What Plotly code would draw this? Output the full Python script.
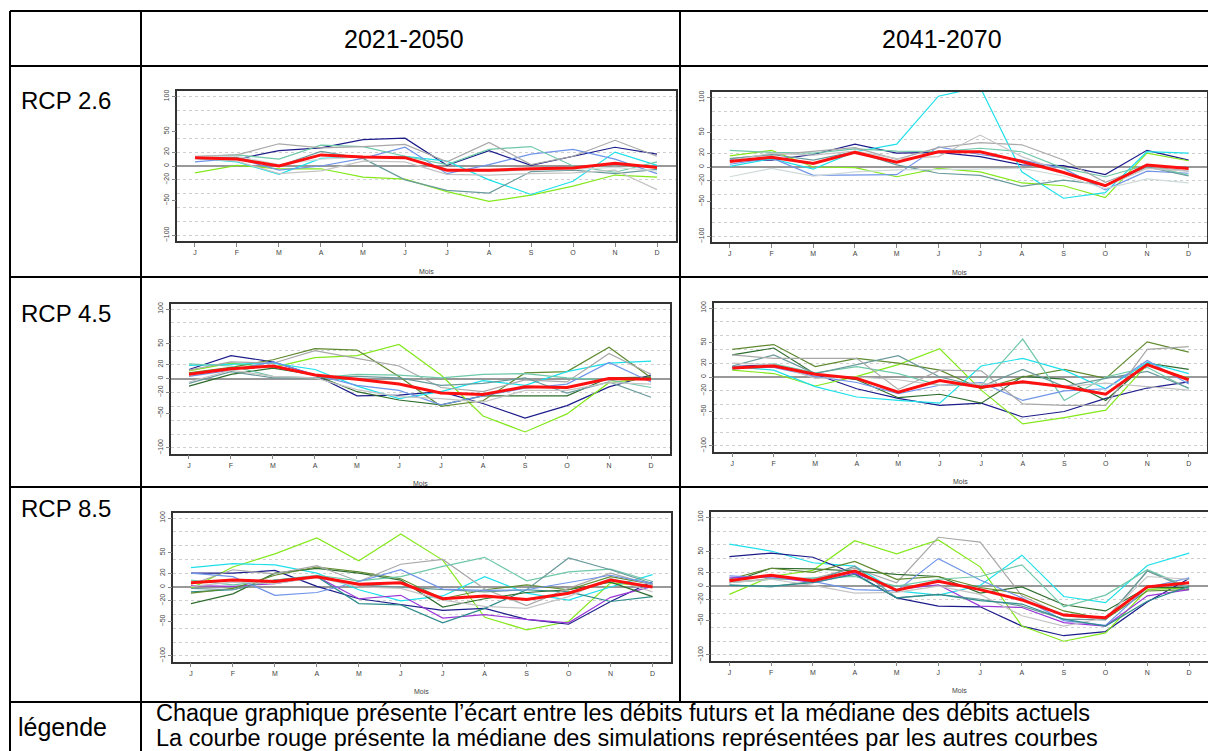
import plotly.graph_objects as go

W, H = 1208, 751

# ---------------- data ----------------
MONTHS = ["J", "F", "M", "A", "M", "J", "J", "A", "S", "O", "N", "D"]
MONTH_POS = list(range(1, 13))
Y_LABEL_TICKS = [-100, -50, -20, 0, 20, 50, 100]
Y_GRID = list(range(-100, 101, 20))
PERIODS = ["2021-2050", "2041-2070"]
SCENARIOS = ["RCP 2.6", "RCP 4.5", "RCP 8.5"]
LEGEND_TITLE = "légende"
LEGEND_LINES = [
    "Chaque graphique présente l’écart entre les débits futurs et la médiane des débits actuels",
    "La courbe rouge présente la médiane des simulations représentées par les autres courbes",
]
X_TITLE = "Mois"

# RCP 2.6 / 2021-2050
RCP26_2021 = {
    "navy": [12, 10, 22, 26, 38, 40, 1, 22, 1, 14, 27, 17],
    "lawngreen": [-10, 1, -4, -4, -16, -19, -37, -51, -42, -29, -13, -16],
    "cyan": [11, 6, -12, 11, 13, 14, 7, -20, -41, -22, 20, 1],
    "cornflower": [6, 11, -6, 0, 11, 27, -11, 2, 17, 24, 10, -11],
    "aquamarine": [13, 16, 10, 30, 28, 14, 2, 24, 28, 0, -9, 6],
    "gray": [14, 16, 32, 26, 28, 31, 6, 34, 2, 14, 37, 14],
    "cadet": [13, 12, 0, 21, 11, -20, -35, -39, -8, -6, -11, -5],
    "lightgray": [11, 7, -11, -7, 7, 6, -12, -13, -11, -10, -6, -34],
    "silver": [14, 14, 2, 10, 13, 11, -5, -8, -6, -5, -2, -7],
}
MED_RCP26_2021 = [12, 10, 0, 16, 13, 12, -6, -6, -4, -3, 4, -2]

# RCP 2.6 / 2041-2070
RCP26_2041 = {
    "navy": [10, 10, 18, 33, 20, 21, 15, 3, 2, -11, 24, 10],
    "lawngreen": [16, 24, 0, -1, -14, -2, -7, -23, -27, -44, 20, 9],
    "cyan": [1, 12, -3, 22, 33, 102, 115, -7, -45, -37, 22, 20],
    "cornflower": [4, 13, -12, -11, -11, 29, 18, 10, -2, -33, -6, -9],
    "aquamarine": [24, 21, 20, 26, 23, 22, 27, 22, -2, -14, 3, -12],
    "gray": [12, 17, 23, 28, 11, 28, 35, 32, 10, -22, 1, -6],
    "cadet": [12, 18, 10, 22, 3, -9, -12, -28, -19, -26, 0, -13],
    "lightgray": [9, 20, 17, 23, 12, 15, 46, 15, -7, -28, -2, -6],
    "silver": [-14, -2, -13, -7, -4, -4, -3, -2, -13, -31, -17, -23],
}
MED_RCP26_2041 = [8, 14, 5, 21, 7, 22, 22, 8, -8, -27, 3, -2]

# RCP 4.5 / 2021-2050
RCP45_2021 = {
    "navy": [13, 33, 24, 5, -25, -24, -19, -36, -57, -39, -12, 5],
    "lawngreen": [11, 22, 16, 30, 33, 49, 5, -54, -77, -51, -6, 1],
    "darkgreen": [-11, 6, 15, 5, -19, -31, -38, -25, -25, -25, 1, 2],
    "olive": [8, 16, 27, 43, 41, 3, -40, -32, 8, 10, 45, 1],
    "cyan": [19, 21, 22, 13, -11, -29, -19, -3, -10, 10, 22, 25],
    "gray": [12, 24, 22, 40, 29, 18, -13, -19, -2, -5, 36, 6],
    "cornflower": [3, 12, 24, 5, -10, -17, -38, -25, -14, -8, 23, -5],
    "aquamarine": [21, 18, 3, 1, 6, 5, 1, 6, 7, 1, -2, -13],
    "cadet": [-7, 10, 1, 1, 3, 1, -10, -7, 1, -21, -5, -27],
    "lightgray": [-5, 12, 3, 1, -16, -26, -29, -34, -17, -17, -6, -8],
}
MED_RCP45_2021 = [6, 14, 18, 5, -1, -8, -21, -23, -12, -13, 0, -1]

# RCP 4.5 / 2041-2070
RCP45_2041 = {
    "navy": [15, 18, 4, -17, -31, -41, -38, -58, -50, -31, -16, -7],
    "lawngreen": [10, 5, -13, 1, 18, 41, -19, -68, -59, -48, 18, -2],
    "darkgreen": [32, 42, 4, -4, -30, -25, -38, 1, -3, -34, 20, 11],
    "olive": [40, 47, 15, 27, 20, 10, -17, 0, 11, -2, 51, 36],
    "cyan": [15, 10, -14, -29, -34, -38, 16, 27, 10, -17, 21, 5],
    "aquamarine": [11, 19, 6, 15, 5, -12, -12, 55, -34, 0, 14, -17],
    "cadet": [16, 32, 5, 18, 31, 0, -14, 11, -14, -2, 8, -16],
    "cornflower": [14, 14, 1, -8, -24, -12, -8, -34, -20, -17, 24, -10],
    "gray": [32, 27, 27, 27, -18, 10, 9, -39, -41, -41, 40, 44],
    "lightgray": [20, 18, -2, 0, -4, -12, -10, -9, -14, -9, -14, -19],
}
MED_RCP45_2041 = [13, 16, 4, -2, -22, -5, -15, -7, -14, -25, 18, -4]

# RCP 8.5 / 2021-2050
RCP85_2021 = {
    "lawngreen": [-2, 29, 48, 71, 38, 77, 39, -44, -62, -50, 6, 1],
    "navy": [20, 20, 24, 1, -17, -26, -34, -31, -47, -54, -21, 8],
    "cyan": [28, 34, 32, 20, -4, -20, -13, 15, -9, -19, 0, 18],
    "purple": [2, 1, 5, 15, -17, -12, -45, -40, -47, -52, -15, 1],
    "darkcyan": [-7, -4, 10, 15, -24, -26, -52, -31, -4, -7, -21, -14],
    "darkgreen": [-24, -10, 20, 27, 20, 10, -29, -17, -8, -4, 7, -14],
    "olive": [-9, -2, 17, 29, 22, 12, -17, -4, 3, -4, 15, 4],
    "gray": [4, 25, 19, 31, 8, 33, 40, -3, -27, -2, 20, 3],
    "aquamarine": [10, 3, 10, 17, 9, 15, 30, 43, 9, 22, 26, 8],
    "cadet": [-2, -4, 10, 15, 3, 0, -4, -7, -4, 42, 25, 5],
    "cornflower": [20, 15, -12, -8, 8, 25, -3, -5, -4, 6, 17, 5],
    "lightgray": [1, 7, 5, 14, 0, -2, -19, -28, -31, -14, 13, -7],
}
MED_RCP85_2021 = [6, 10, 8, 15, 4, 6, -17, -13, -18, -9, 10, 0]

# RCP 8.5 / 2041-2070
RCP85_2041 = {
    "cyan": [61, 51, 34, 29, -7, -13, 1, 45, -15, -24, 30, 48],
    "navy": [43, 48, 42, 18, -17, -29, -30, -58, -72, -66, -23, 11],
    "lawngreen": [-12, 14, 23, 66, 47, 67, 28, -58, -80, -68, -5, -2],
    "gray": [5, 11, 11, 26, 5, 71, 64, -14, -43, -48, 22, -1],
    "darkgreen": [5, 26, 25, 22, 17, 14, -10, -1, -27, -36, -2, -2],
    "olive": [10, 26, 20, 36, 10, 14, -2, -11, -36, -48, -7, -5],
    "cornflower": [15, 12, 7, -5, -7, 40, 9, -17, -50, -57, -2, 12],
    "purple": [12, 14, 5, 19, -5, 2, -29, -31, -53, -58, -14, -5],
    "aquamarine": [5, 10, 12, 14, 0, 10, 14, 31, -30, -13, 24, -2],
    "cadet": [2, -1, 7, 29, -17, -12, -19, -29, -48, -49, 22, -4],
    "lightgray": [5, 10, 1, -10, -9, 0, -12, -43, -58, -46, 14, 10],
    "darkcyan": [1, 0, 5, 17, -17, -12, -21, -26, -48, -58, -22, 0],
}
MED_RCP85_2041 = [8, 16, 8, 22, -6, 7, -5, -20, -42, -46, -1, 5]

# ---------------- styles ----------------
COLORS = {
    "navy": "#1c1c8a",
    "lawngreen": "#84e81c",
    "cyan": "#1ee0ea",
    "cornflower": "#6f94e8",
    "aquamarine": "#6fc8a8",
    "gray": "#a8a8a8",
    "cadet": "#6a9a9c",
    "lightgray": "#c4c4c4",
    "silver": "#cfdada",
    "darkgreen": "#2f6e2f",
    "olive": "#5f8a2f",
    "purple": "#9a38d8",
    "darkcyan": "#2e8c8c",
}
MEDIAN_COLOR = "#ff1010"
FONT = "Liberation Sans, Arial, sans-serif"

# panel boxes in pixels: (left, right, top, bottom)
PANELS = [
    (RCP26_2021, MED_RCP26_2021, (176.5, 675.5, 91, 241)),
    (RCP26_2041, MED_RCP26_2041, (711.5, 1207, 92, 242)),
    (RCP45_2021, MED_RCP45_2021, (170.5, 669.5, 303.5, 453.5)),
    (RCP45_2041, MED_RCP45_2041, (714, 1207, 302.5, 451.5)),
    (RCP85_2021, MED_RCP85_2021, (172.5, 671, 512.5, 661.5)),
    (RCP85_2041, MED_RCP85_2041, (711, 1207.5, 511.8, 660.5)),
]


def px(x):
    return x / W


def py(y):
    return 1 - y / H


fig = go.Figure()
layout = dict(
    width=W, height=H, margin=dict(l=0, r=0, t=0, b=0),
    paper_bgcolor="white", plot_bgcolor="white",
    showlegend=False, template="none",
    font=dict(family=FONT, color="#000"),
)
annotations = []
shapes = []

n = len(PANELS)
for i, (series, median, (l, r, t, b)) in enumerate(PANELS, start=1):
    sx = "" if i == 1 else str(i)
    for name, vals in series.items():
        fig.add_trace(go.Scatter(
            x=MONTH_POS, y=vals, mode="lines",
            line=dict(color=COLORS[name], width=1.2),
            xaxis="x" + sx, yaxis="y" + sx, hoverinfo="skip",
        ))
    fig.add_trace(go.Scatter(
        x=MONTH_POS, y=median, mode="lines",
        line=dict(color=MEDIAN_COLOR, width=3),
        xaxis="x" + sx, yaxis="y" + sx, hoverinfo="skip",
    ))
    # empty trace to anchor the labelled overlay axis
    fig.add_trace(go.Scatter(x=[], y=[], xaxis="x" + sx, yaxis="y" + str(i + n)))

    layout["xaxis" + sx] = dict(
        domain=[px(l), px(r)], range=[0.56, 12.44], anchor="y" + sx,
        tickmode="array", tickvals=MONTH_POS, ticktext=MONTHS,
        ticks="outside", ticklen=4, tickwidth=1, tickcolor="#888",
        tickfont=dict(size=7, color="#444", family=FONT),
        showline=True, mirror=True, linecolor="#333", linewidth=1.5,
        showgrid=False, zeroline=False, automargin=False,
    )
    layout["yaxis" + sx] = dict(
        domain=[py(b), py(t)], range=[-108, 108], anchor="x" + sx,
        tickmode="array", tickvals=Y_GRID, showticklabels=False, ticks="",
        showgrid=True, gridcolor="#cfcfcf", griddash="dot", gridwidth=1,
        zeroline=True, zerolinecolor="#999", zerolinewidth=1.5,
        showline=True, mirror=True, linecolor="#333", linewidth=1.5,
        automargin=False,
    )
    layout["yaxis" + str(i + n)] = dict(
        overlaying="y" + sx, anchor="x" + sx, side="left", range=[-108, 108],
        tickmode="array", tickvals=Y_LABEL_TICKS,
        ticks="outside", ticklen=4, tickwidth=1, tickcolor="#888",
        tickangle=-90, tickfont=dict(size=7, color="#444", family=FONT),
        showgrid=False, zeroline=False, showline=False, automargin=False,
    )
    annotations.append(dict(
        x=px((l + r) / 2), y=py(b + 30), xref="paper", yref="paper",
        text=X_TITLE, showarrow=False, font=dict(size=7, color="#444", family=FONT),
        xanchor="center", yanchor="middle",
    ))

# header texts
for period, cx in zip(PERIODS, [404, 942]):
    annotations.append(dict(
        x=px(cx), y=py(39), xref="paper", yref="paper", text=period,
        showarrow=False, font=dict(size=25, family=FONT, color="#000"),
        xanchor="center", yanchor="middle",
    ))
for scen, cy in zip(SCENARIOS, [100, 313, 508]):
    annotations.append(dict(
        x=px(19), y=py(cy), xref="paper", yref="paper", text=scen,
        showarrow=False, font=dict(size=24, family=FONT, color="#000"),
        xanchor="left", yanchor="middle",
    ))
annotations.append(dict(
    x=px(16), y=py(727), xref="paper", yref="paper", text=LEGEND_TITLE,
    showarrow=False, font=dict(size=25, family=FONT, color="#000"),
    xanchor="left", yanchor="middle",
))
for line, cy in zip(LEGEND_LINES, [713, 738]):
    annotations.append(dict(
        x=px(154), y=py(cy), xref="paper", yref="paper", text=line,
        showarrow=False, font=dict(size=23.5, family=FONT, color="#000"),
        xanchor="left", yanchor="middle",
    ))

# table grid lines
def hline(y, x0, x1):
    shapes.append(dict(type="line", xref="paper", yref="paper",
                       x0=px(x0), x1=px(x1), y0=py(y), y1=py(y),
                       line=dict(color="black", width=2)))


def vline(x, y0, y1):
    shapes.append(dict(type="line", xref="paper", yref="paper",
                       x0=px(x), x1=px(x), y0=py(y0), y1=py(y1),
                       line=dict(color="black", width=2)))


for yy in [11, 66, 277, 487, 702]:
    hline(yy, 10, 1208)
vline(10, 11, 751)
vline(141, 11, 751)
vline(680, 11, 702)

layout["annotations"] = annotations
layout["shapes"] = shapes
fig.update_layout(**layout)
fig.write_html(
    "out.html",
    config={"displayModeBar": False},
    post_script="document.body.style.margin='0';document.body.style.padding='0';"
                "document.body.style.overflow='hidden';",
)
